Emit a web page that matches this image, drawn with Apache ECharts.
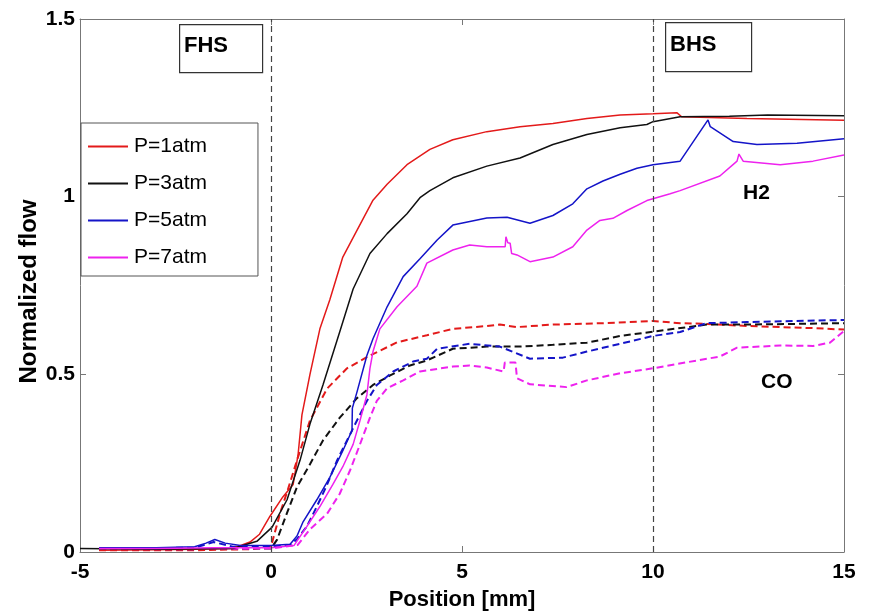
<!DOCTYPE html>
<html>
<head>
<meta charset="utf-8">
<script src="https://cdn.jsdelivr.net/npm/echarts@6/dist/echarts.min.js"></script>
<style>
html,body{margin:0;padding:0;background:#fff;}
#chart{width:869px;height:616px;}
</style>
</head>
<body>
<div id="chart"></div>
<script>
// ---- data (position in mm, normalized flow) ----
const legendNames = ['P=1atm', 'P=3atm', 'P=5atm', 'P=7atm'];

const h2_1_x = [-4.5, -3, -2, -1, -0.55, -0.3, -0.03, 0.31, 0.58, 0.71, 0.81, 1.02, 1.28, 1.54, 1.88, 2.25, 2.67, 3.04, 3.56, 4.16, 4.76, 5.65, 6.52, 7.38, 8.27, 9.14, 10, 10.63, 10.75, 12.46, 15];
const h2_1_y = [0.005, 0.006, 0.008, 0.01, 0.028, 0.05, 0.1, 0.155, 0.19, 0.275, 0.386, 0.5, 0.628, 0.71, 0.83, 0.905, 0.99, 1.035, 1.09, 1.133, 1.16, 1.183, 1.197, 1.206, 1.22, 1.23, 1.233, 1.236, 1.225, 1.22, 1.215];

const h2_3_x = [-5, -3, -1, -0.37, 0.03, 0.42, 0.76, 1.02, 1.36, 1.8, 2.15, 2.59, 3.04, 3.56, 3.9, 4.16, 4.76, 5.65, 6.52, 7.38, 8.27, 9.14, 9.84, 10, 10.71, 12, 13, 15];
const h2_3_y = [0.01, 0.008, 0.01, 0.03, 0.07, 0.147, 0.258, 0.36, 0.47, 0.62, 0.74, 0.84, 0.896, 0.952, 0.997, 1.017, 1.053, 1.086, 1.109, 1.147, 1.175, 1.194, 1.203, 1.211, 1.225, 1.226, 1.23, 1.228];

const h2_5_x = [-4.5, -3, -2, -1.7, -1.47, -1.2, -0.8, 0, 0.5, 0.68, 0.84, 1.2, 1.54, 1.88, 2.07, 2.12, 2.13, 2.25, 2.51, 2.67, 3.04, 3.46, 3.9, 4.35, 4.76, 5.65, 6.18, 6.78, 7.38, 7.9, 8.27, 8.69, 9.14, 9.58, 10, 10.71, 11.44, 11.5, 12.1, 12.72, 13.77, 15];
const h2_5_y = [0.012, 0.012, 0.015, 0.025, 0.035, 0.025, 0.018, 0.018, 0.022, 0.045, 0.085, 0.147, 0.21, 0.285, 0.33, 0.34, 0.405, 0.45, 0.553, 0.6, 0.69, 0.775, 0.825, 0.878, 0.92, 0.94, 0.942, 0.925, 0.947, 0.98, 1.022, 1.044, 1.063, 1.08, 1.09, 1.1, 1.216, 1.197, 1.155, 1.147, 1.15, 1.163];

const h2_7_x = [-4.5, -3, -1.5, 0, 0.6, 0.94, 1.28, 1.62, 1.88, 2.15, 2.33, 2.51, 2.59, 2.67, 2.85, 3.3, 3.82, 4.08, 4.76, 5.2, 5.65, 6.13, 6.15, 6.2, 6.26, 6.3, 6.44, 6.78, 7.38, 7.9, 8.27, 8.61, 8.95, 9.32, 9.84, 10.45, 10.71, 11.75, 12.2, 12.25, 12.36, 13.33, 14.19, 15];
const h2_7_y = [0.01, 0.01, 0.012, 0.012, 0.018, 0.072, 0.128, 0.19, 0.24, 0.303, 0.37, 0.442, 0.517, 0.564, 0.628, 0.69, 0.748, 0.813, 0.85, 0.864, 0.859, 0.859, 0.887, 0.87, 0.869, 0.84, 0.836, 0.817, 0.83, 0.859, 0.906, 0.933, 0.939, 0.961, 0.989, 1.008, 1.017, 1.058, 1.1, 1.12, 1.1, 1.09, 1.1, 1.117];

const co_1_x = [-4.5, -2, -0.5, 0, 0.05, 0.24, 0.44, 0.68, 1.02, 1.47, 1.99, 2.59, 3.3, 4.08, 4.76, 5.65, 5.99, 6.44, 7.38, 8.69, 10, 10.71, 11.4, 12.46, 14.19, 15];
const co_1_y = [0.005, 0.005, 0.008, 0.015, 0.035, 0.11, 0.175, 0.258, 0.37, 0.46, 0.517, 0.553, 0.59, 0.61, 0.628, 0.636, 0.64, 0.633, 0.64, 0.644, 0.65, 0.644, 0.642, 0.636, 0.63, 0.626];

const co_3_x = [-4.5, -2, 0, 0.16, 0.42, 0.68, 1.02, 1.36, 1.8, 2.25, 2.67, 3.12, 3.64, 4.08, 4.76, 5.65, 6.52, 7.38, 8.27, 9.14, 10, 11.4, 12.46, 15];
const co_3_y = [0.008, 0.008, 0.01, 0.035, 0.11, 0.183, 0.247, 0.314, 0.378, 0.433, 0.47, 0.497, 0.525, 0.539, 0.572, 0.578, 0.578, 0.583, 0.589, 0.608, 0.62, 0.64, 0.64, 0.644];

const co_5_x = [-4.5, -2, -1.5, -1, 0, 0.5, 0.68, 0.94, 1.2, 1.47, 1.73, 1.99, 2.25, 2.51, 2.77, 3.2, 3.72, 4.08, 4.35, 5.2, 5.99, 6.78, 7.64, 8.27, 9.14, 10, 10.71, 11.4, 12.46, 15];
const co_5_y = [0.01, 0.012, 0.028, 0.015, 0.015, 0.02, 0.036, 0.072, 0.128, 0.19, 0.258, 0.314, 0.37, 0.425, 0.47, 0.508, 0.536, 0.544, 0.572, 0.586, 0.578, 0.544, 0.547, 0.564, 0.586, 0.608, 0.619, 0.644, 0.647, 0.653];

const co_7_x = [-4.5, -2, 0, 0.7, 1.02, 1.47, 1.8, 2.07, 2.33, 2.59, 2.77, 3.04, 3.46, 3.9, 4.76, 5.2, 5.65, 6.09, 6.12, 6.4, 6.44, 6.78, 7.74, 8.27, 9.14, 10, 11.15, 11.75, 12.2, 13.33, 14.19, 14.63, 15];
const co_7_y = [0.008, 0.008, 0.01, 0.02, 0.064, 0.108, 0.164, 0.23, 0.303, 0.378, 0.425, 0.461, 0.483, 0.508, 0.522, 0.525, 0.519, 0.508, 0.533, 0.533, 0.489, 0.472, 0.464, 0.483, 0.503, 0.517, 0.539, 0.55, 0.575, 0.581, 0.58, 0.589, 0.622];

const heaterLines = [0, 10];
const xTicks = { min: -5, max: 15, interval: 5 };
const yTicks = { min: 0, max: 1.5, interval: 0.5 };

// ---- build ----
const colors = ['#e31a1a', '#111111', '#1414c8', '#ee22ee'];
function pairs(xs, ys) { return xs.map((v, i) => [v, ys[i]]); }
const FONT = '"Liberation Sans", Arial, sans-serif';

const solidSets = [[h2_1_x, h2_1_y], [h2_3_x, h2_3_y], [h2_5_x, h2_5_y], [h2_7_x, h2_7_y]];
const dashSets = [[co_1_x, co_1_y], [co_3_x, co_3_y], [co_5_x, co_5_y], [co_7_x, co_7_y]];

const series = [];
dashSets.forEach((s, i) => {
  series.push({
    name: 'CO ' + legendNames[i], type: 'line', showSymbol: false, symbol: 'none',
    data: pairs(s[0], s[1]), z: 3,
    lineStyle: { color: colors[i], width: 2, type: [7, 4] }, itemStyle: { color: colors[i] },
    animation: false
  });
});
solidSets.forEach((s, i) => {
  series.push({
    name: legendNames[i], type: 'line', showSymbol: false, symbol: 'none',
    data: pairs(s[0], s[1]), z: 4,
    lineStyle: { color: colors[i], width: 1.5 }, itemStyle: { color: colors[i] },
    animation: false
  });
});
series.push({
  name: 'markers', type: 'line', data: [], animation: false, z: 2,
  markLine: {
    silent: true, symbol: 'none', label: { show: false },
    lineStyle: { color: '#444', width: 1.2, type: [6, 4] },
    data: heaterLines.map(v => ({ xAxis: v }))
  }
});

const axisLineStyle = { onZero: false, lineStyle: { color: '#777', width: 1 } };
const tickStyle = { show: true, inside: true, length: 6, lineStyle: { color: '#777' } };
const labelStyle = { color: '#000', fontSize: 21, fontWeight: 'bold', fontFamily: FONT };

const chart = echarts.init(document.getElementById('chart'), null, { renderer: 'canvas' });
chart.setOption({
  backgroundColor: '#fff',
  animation: false,
  grid: { left: 80, right: 25, top: 19, bottom: 60, containLabel: false },
  xAxis: [
    { type: 'value', position: 'bottom', min: xTicks.min, max: xTicks.max, interval: xTicks.interval,
      axisLine: axisLineStyle, axisTick: tickStyle, splitLine: { show: false },
      axisLabel: Object.assign({ margin: 10 }, labelStyle),
      name: 'Position [mm]', nameLocation: 'middle', nameGap: 37, nameMoveOverlap: false,
      nameTextStyle: { color: '#000', fontSize: 22, fontWeight: 'bold', fontFamily: FONT } },
    { type: 'value', position: 'top', min: xTicks.min, max: xTicks.max, interval: xTicks.interval,
      axisLine: axisLineStyle, axisTick: tickStyle, splitLine: { show: false }, axisLabel: { show: false } }
  ],
  yAxis: [
    { type: 'value', position: 'left', min: yTicks.min, max: yTicks.max, interval: yTicks.interval,
      axisLine: axisLineStyle, axisTick: tickStyle, splitLine: { show: false },
      axisLabel: Object.assign({ margin: 5 }, labelStyle),
      name: 'Normalized flow', nameLocation: 'middle', nameGap: 39, nameRotate: 90, nameMoveOverlap: false,
      nameTextStyle: { color: '#000', fontSize: 24, fontWeight: 'bold', fontFamily: FONT, padding: [0, 12, 0, 0] } },
    { type: 'value', position: 'right', min: yTicks.min, max: yTicks.max, interval: yTicks.interval,
      axisLine: axisLineStyle, axisTick: tickStyle, splitLine: { show: false }, axisLabel: { show: false } }
  ],
  legend: {
    data: legendNames, orient: 'vertical', left: 81, top: 123,
    icon: 'rect', itemWidth: 40, itemHeight: 2, itemGap: 16,
    padding: [13, 51, 8, 7],
    backgroundColor: '#fff', borderColor: '#555', borderWidth: 1, borderRadius: 0,
    textStyle: { color: '#000', fontSize: 21, fontFamily: FONT, lineHeight: 21, padding: [0, 0, 0, 1] },
    selectedMode: false
  },
  graphic: [
    { type: 'rect', left: 179, top: 24, shape: { width: 83, height: 48 }, style: { fill: '#fff', stroke: '#333', lineWidth: 1.2 }, z: 100 },
    { type: 'text', left: 184, top: 35, style: { text: 'FHS', fill: '#000', font: 'bold 22px ' + FONT }, z: 101 },
    { type: 'rect', left: 665, top: 22, shape: { width: 86, height: 49 }, style: { fill: '#fff', stroke: '#333', lineWidth: 1.2 }, z: 100 },
    { type: 'text', left: 670, top: 34, style: { text: 'BHS', fill: '#000', font: 'bold 22px ' + FONT }, z: 101 },
    { type: 'text', left: 743, top: 183, style: { text: 'H2', fill: '#000', font: 'bold 21px ' + FONT }, z: 101 },
    { type: 'text', left: 761, top: 372, style: { text: 'CO', fill: '#000', font: 'bold 21px ' + FONT }, z: 101 }
  ],
  series: series
});
</script>
</body>
</html>
